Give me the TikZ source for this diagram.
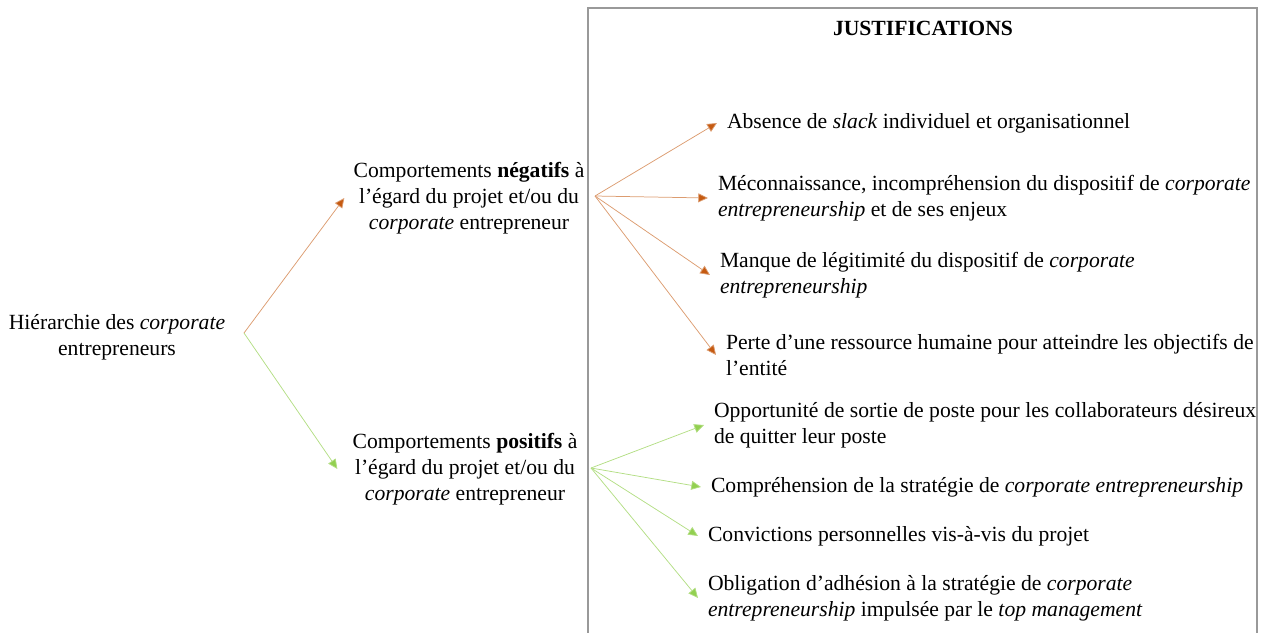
\documentclass[tikz,border=0pt]{standalone}
\usepackage{fontspec}
\setmainfont{Liberation Serif}
\usetikzlibrary{arrows.meta,positioning}
\definecolor{neg}{HTML}{C55A11}
\definecolor{pos}{HTML}{92D050}

\begin{document}
\begin{tikzpicture}[x=0.67pt,y=-0.67pt,
    txt/.style={font=\fontsize{14.5}{17.4}\selectfont,inner sep=0pt,align=center},
    just/.style={font=\fontsize{14.5}{17.4}\selectfont,inner ysep=0pt,inner xsep=6.5pt,align=left,anchor=west},
    arrneg/.style={draw=neg!60,line width=0.5pt,-{Triangle[length=6.5pt,width=6pt,fill=neg]}},
    arrpos/.style={draw=pos!70,line width=0.5pt,-{Triangle[length=6.5pt,width=6pt,fill=pos]}},
]
\useasboundingbox (0,0) rectangle (1267,632);
% frame of the justifications
\draw[gray!80,line width=0.8pt] (588,650) -- (588,8) -- (1257,8) -- (1257,650);
\node[font=\fontsize{14.5}{17.4}\selectfont\bfseries] (title) at (923,28) {JUSTIFICATIONS};

\node[txt] (hier) at (117,337) {Hiérarchie des \textit{corporate}\\entrepreneurs};
\node[txt,inner xsep=6pt] (cneg) at (469,198) {Comportements \textbf{négatifs} à\\l’égard du projet et/ou du\\\textit{corporate} entrepreneur};
\node[txt,inner xsep=10pt] (cpos) at (465,469) {Comportements \textbf{positifs} à\\l’égard du projet et/ou du\\\textit{corporate} entrepreneur};

\coordinate (h0) at (244,333);
\coordinate (n0) at (595,196);
\coordinate (p0) at (591,468);

% negative justifications
\node[just] (n1) at (717,123) {Absence de \textit{slack} individuel et organisationnel};
\node[just] (n2) at (708,198) {Méconnaissance, incompréhension du dispositif de \textit{corporate}\\\textit{entrepreneurship} et de ses enjeux};
\node[just] (n3) at (710,275) {Manque de légitimité du dispositif de \textit{corporate}\\\textit{entrepreneurship}};
\node[just] (n4) at (716,355) {Perte d’une ressource humaine pour atteindre les objectifs de\\l’entité};

% positive justifications
\node[just] (p1) at (704,425) {Opportunité de sortie de poste pour les collaborateurs désireux\\de quitter leur poste};
\node[just] (p2) at (701,487) {Compréhension de la stratégie de \textit{corporate entrepreneurship}};
\node[just] (p3) at (698,536) {Convictions personnelles vis-à-vis du projet};
\node[just] (p4) at (698,598) {Obligation d’adhésion à la stratégie de \textit{corporate}\\\textit{entrepreneurship} impulsée par le \textit{top management}};

\draw[arrneg] (h0) -- (cneg.west);
\draw[arrpos] (h0) -- (cpos.west);
\foreach \i in {1,...,4} {
  \draw[arrneg] (n0) -- (n\i.west);
  \draw[arrpos] (p0) -- (p\i.west);
}
\end{tikzpicture}
\end{document}
